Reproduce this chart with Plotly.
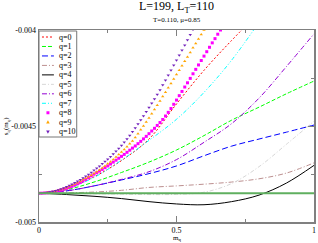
import plotly.graph_objects as go

# ---------------- data ----------------
x_line = [0.0, 0.1, 0.2, 0.3, 0.4, 0.5, 0.6, 0.7, 0.8, 0.9, 1.0]

q0 = [-0.004850, -0.004826, -0.004765, -0.004680, -0.004568, -0.004385, -0.004210, -0.004055, -0.003910, None, None]
q1 = [-0.004850, -0.004832, -0.004792, -0.004742, -0.004688, -0.004625, -0.004550, -0.004470, -0.004402, -0.004332, -0.004266]
q2 = [-0.004850, -0.004838, -0.004812, -0.004781, -0.004748, -0.004708, -0.004655, -0.004605, -0.004568, -0.004532, -0.004495]
q3 = [-0.004850, -0.004848, -0.004844, -0.004835, -0.004820, -0.004812, -0.004803, -0.004792, -0.004775, -0.004745, -0.004692]
q4 = [-0.004850, -0.004857, -0.004866, -0.004878, -0.004894, -0.004906, -0.004910, -0.004894, -0.004860, -0.004797, -0.004705]
q5 = [-0.004850, -0.004851, -0.004853, -0.004855, -0.004857, -0.004856, -0.004845, -0.004800, -0.004712, -0.004595, -0.004475]
q6 = [-0.004850, -0.004838, -0.004812, -0.004778, -0.004738, -0.004675, -0.004585, -0.004488, -0.004355, -0.004190, -0.004020]
q7 = [-0.004850, -0.004826, -0.004768, -0.004678, -0.004575, -0.004465, -0.004325, -0.004158, -0.003960, None, None]

x_mark = [round(0.01 * k, 2) for k in range(68)]

q8 = [-0.004850, -0.004850, -0.004849, -0.004848, -0.004846, -0.004844, -0.004841, -0.004838, -0.004834, -0.004830,
      -0.004825, -0.004820, -0.004814, -0.004808, -0.004801, -0.004794, -0.004786, -0.004778, -0.004769, -0.004760,
      -0.004751, -0.004743, -0.004735, -0.004726, -0.004717, -0.004708, -0.004698, -0.004688, -0.004678, -0.004668,
      -0.004658, -0.004648, -0.004637, -0.004626, -0.004615, -0.004604, -0.004592, -0.004580, -0.004567, -0.004554,
      -0.004540, -0.004526, -0.004512, -0.004497, -0.004482, -0.004466, -0.004448, -0.004429, -0.004409, -0.004387,
      -0.004365, -0.004342, -0.004320, -0.004297, -0.004275, -0.004252, -0.004228, -0.004205, -0.004182, -0.004159,
      -0.004136, -0.004113, -0.004090, -0.004067, -0.004045, -0.004022, -0.004000, -0.003977]
q9 = [-0.004850, -0.004850, -0.004849, -0.004847, -0.004845, -0.004842, -0.004839, -0.004835, -0.004831, -0.004826,
      -0.004821, -0.004815, -0.004809, -0.004802, -0.004795, -0.004788, -0.004780, -0.004772, -0.004764, -0.004756,
      -0.004747, -0.004738, -0.004729, -0.004719, -0.004708, -0.004697, -0.004686, -0.004674, -0.004662, -0.004649,
      -0.004635, -0.004622, -0.004608, -0.004593, -0.004578, -0.004560, -0.004540, -0.004520, -0.004500, -0.004479,
      -0.004458, -0.004436, -0.004414, -0.004392, -0.004370, -0.004347, -0.004324, -0.004301, -0.004278, -0.004255,
      -0.004232, -0.004209, -0.004186, -0.004163, -0.004140, -0.004117, -0.004093, -0.004070, -0.004047, -0.004023,
      -0.004000, -0.003977, None, None, None, None, None, None]
q10 = [-0.004850, -0.004849, -0.004848, -0.004846, -0.004844, -0.004841, -0.004837, -0.004833, -0.004828, -0.004823,
       -0.004817, -0.004810, -0.004803, -0.004796, -0.004788, -0.004780, -0.004771, -0.004762, -0.004752, -0.004742,
       -0.004731, -0.004720, -0.004709, -0.004697, -0.004685, -0.004673, -0.004660, -0.004646, -0.004632, -0.004617,
       -0.004602, -0.004585, -0.004568, -0.004549, -0.004530, -0.004510, -0.004490, -0.004469, -0.004448, -0.004426,
       -0.004404, -0.004382, -0.004359, -0.004336, -0.004312, -0.004287, -0.004262, -0.004236, -0.004210, -0.004184,
       -0.004158, -0.004132, -0.004105, -0.004079, -0.004052, -0.004025, -0.003998, -0.003971, None, None,
       None, None, None, None, None, None, None, None]

base_x = [0.0, 1.0]
base_y = [-0.00485, -0.00485]

labels = ["q=0", "q=1", "q=2", "q=3", "q=4", "q=5", "q=6", "q=7", "q=8", "q=9", "q=10"]

x_ticks = [0, 0.5, 1]
x_ticktext = ["0", "0.5", "1"]
y_ticks = [-0.005, -0.0045, -0.004]
y_ticktext = ["-0.005", "-0.0045", "-0.004"]

# ---------------- styles ----------------
FONT = "Liberation Serif"
line_series = [
    (q0, "rgb(255,0,0)", "2px,2px"),
    (q1, "rgb(0,255,0)", "4px,2px"),
    (q2, "rgb(0,0,255)", "6px,3px"),
    (q3, "rgb(188,143,143)", "5px,2px,1px,2px"),
    (q4, "rgb(0,0,0)", "solid"),
    (q5, "rgb(215,215,215)", "4px,2px,1px,2px"),
    (q6, "rgb(148,0,211)", "5px,2px,1px,2px"),
    (q7, "rgb(0,255,255)", "4px,2px,1px,2px,1px,2px"),
]
mark_series = [
    (q8, "rgb(255,0,255)", "square"),
    (q9, "rgb(255,165,0)", "triangle-up"),
    (q10, "rgb(114,33,188)", "triangle-down"),
]

fig = go.Figure()
for i, (ys, col, dash) in enumerate(line_series):
    fig.add_trace(go.Scatter(x=x_line, y=ys, mode="lines", name=labels[i],
                             line=dict(color=col, width=1, dash=dash, shape="spline"),
                             showlegend=False))
for j, (ys, col, sym) in enumerate(mark_series):
    fig.add_trace(go.Scatter(x=x_mark, y=ys, mode="markers", name=labels[8 + j],
                             marker=dict(color=col, symbol=sym, size=3, line=dict(width=0)),
                             showlegend=False))
fig.add_trace(go.Scatter(x=base_x, y=base_y, mode="lines",
                         line=dict(color="rgb(95,175,95)", width=2), showlegend=False))

# ---------------- layout ----------------
L, R, T, B = 39, 2, 30, 21
W, H = 318, 243
PW, PH = W - L - R, H - T - B


def px(xp):
    return (xp - L) / PW


def py(yp):
    return (H - B - yp) / PH


shapes = []
annotations = []
# legend box
shapes.append(dict(type="rect", xref="paper", yref="paper",
                   x0=px(39), x1=px(77), y0=py(137), y1=py(31),
                   fillcolor="white", line=dict(color="#777", width=1)))
entry_styles = [(c, d) for (_, c, d) in line_series]
for i, lab in enumerate(labels):
    yc = 37 + 9.47 * i
    if i < 8:
        col, dash = entry_styles[i]
        shapes.append(dict(type="line", xref="paper", yref="paper",
                           x0=px(42), x1=px(54), y0=py(yc), y1=py(yc),
                           line=dict(color=col, width=1, dash=dash)))
    else:
        col = mark_series[i - 8][1]
        sym = mark_series[i - 8][2]
        if sym == "square":
            shapes.append(dict(type="rect", xref="paper", yref="paper",
                               x0=px(46.5), x1=px(49.5), y0=py(yc + 1.5), y1=py(yc - 1.5),
                               fillcolor=col, line=dict(width=0)))
        else:
            if sym == "triangle-up":
                pts = [(48, yc - 2), (46.2, yc + 1.3), (49.8, yc + 1.3)]
            else:
                pts = [(48, yc + 2), (46.2, yc - 1.3), (49.8, yc - 1.3)]
            path = "M " + " L ".join(f"{px(a)},{py(b)}" for a, b in pts) + " Z"
            shapes.append(dict(type="path", xref="paper", yref="paper", path=path,
                               fillcolor=col, line=dict(width=0)))
    annotations.append(dict(xref="paper", yref="paper", x=px(57), y=py(yc),
                            xanchor="left", yanchor="middle", showarrow=False,
                            text=lab, font=dict(family=FONT, size=8, color="black")))

annotations.append(dict(xref="paper", yref="paper", x=0.5, y=py(7), xanchor="center",
                        yanchor="middle", showarrow=False,
                        text="L=199, L<sub>T</sub>=110",
                        font=dict(family=FONT, size=12, color="black")))
annotations.append(dict(xref="paper", yref="paper", x=0.5, y=py(20), xanchor="center",
                        yanchor="middle", showarrow=False,
                        text="T=0.110, \u03bc=0.85",
                        font=dict(family=FONT, size=7, color="black")))
annotations.append(dict(xref="paper", yref="paper", x=px(6), y=0.5, xanchor="center",
                        yanchor="middle", showarrow=False, textangle=-90,
                        text="s<sub>q</sub>(m<sub>q</sub>)",
                        font=dict(family=FONT, size=7, color="black")))
annotations.append(dict(xref="paper", yref="paper", x=0.5, y=py(238), xanchor="center",
                        yanchor="middle", showarrow=False,
                        text="m<sub>q</sub>",
                        font=dict(family=FONT, size=7, color="black")))

axis_common = dict(showline=True, linecolor="#808080", linewidth=1.5, mirror="ticks",
                   ticks="inside", ticklen=6, tickwidth=1, tickcolor="#808080",
                   showgrid=False, zeroline=False,
                   tickfont=dict(family=FONT, size=8, color="black"))

fig.update_layout(
    width=W, height=H, autosize=False,
    margin=dict(l=L, r=R, t=T, b=B, pad=0),
    paper_bgcolor="white", plot_bgcolor="white",
    showlegend=False, hovermode=False,
    xaxis=dict(range=[0, 1], tickvals=x_ticks, ticktext=x_ticktext,
               minor=dict(tickvals=[0.25, 0.75], ticks="inside", ticklen=3, tickcolor="#808080"),
               **axis_common),
    yaxis=dict(range=[-0.005, -0.004], tickvals=y_ticks, ticktext=y_ticktext,
               minor=dict(tickvals=[-0.00475, -0.00425], ticks="inside", ticklen=3, tickcolor="#808080"),
               **axis_common),
    shapes=shapes,
    annotations=annotations,
)

fig.write_html("out.html", config={"displayModeBar": False, "staticPlot": True},
               post_script="document.body.style.margin='0px';document.body.style.overflow='hidden';")
